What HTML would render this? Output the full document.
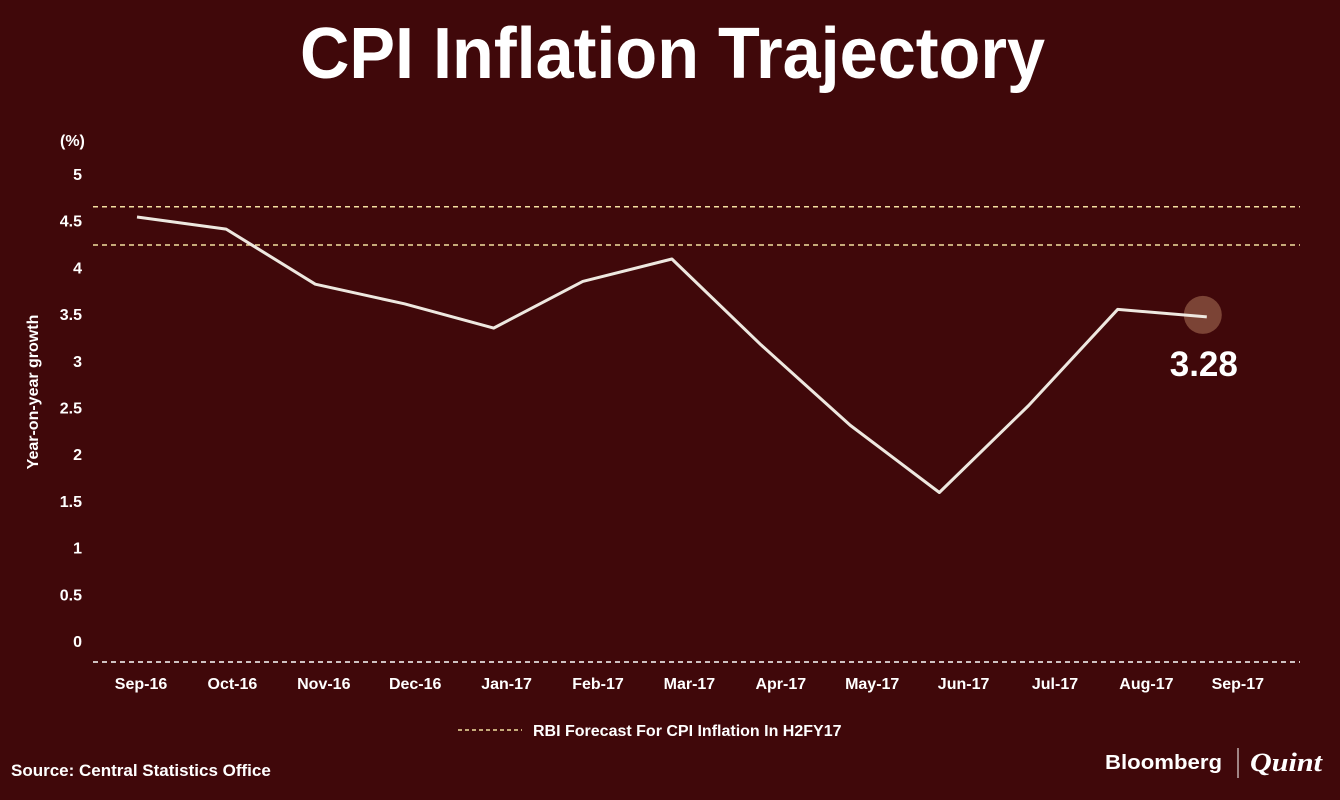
<!DOCTYPE html>
<html><head><meta charset="utf-8"><style>
html,body{margin:0;padding:0;background:#40080a;}
svg{display:block;font-family:"Liberation Sans",sans-serif;}
</style></head><body>
<svg width="1340" height="800" viewBox="0 0 1340 800">
<rect width="1340" height="800" fill="#40080a"/>
<text x="300" y="78" textLength="745" lengthAdjust="spacingAndGlyphs" fill="#fff" font-size="72" font-weight="bold">CPI Inflation Trajectory</text>
<text x="60" y="146" fill="#fff" font-size="16" font-weight="bold">(%)</text>
<text transform="translate(38,392) rotate(-90)" text-anchor="middle" fill="#fff" font-size="16" font-weight="bold">Year-on-year growth</text>
<g id="yticks"></g><g id="xticks"></g><g id="refs"></g><g id="series"></g>
<line x1="93" y1="662" x2="1300" y2="662" stroke="#fff" stroke-width="1.5" stroke-dasharray="5,4"/>
<line x1="458" y1="730" x2="522" y2="730" stroke="#f3dfa0" stroke-width="1.5" stroke-dasharray="4,3"/>
<text x="533" y="736" fill="#fff" font-size="16" font-weight="bold">RBI Forecast For CPI Inflation In H2FY17</text>
<text x="11" y="776" fill="#fff" font-size="17" font-weight="bold">Source: Central Statistics Office</text>
<text x="1105" y="769" textLength="117" lengthAdjust="spacingAndGlyphs" fill="#fff" font-size="20" font-weight="bold">Bloomberg</text>
<line x1="1238" y1="748" x2="1238" y2="778" stroke="#fff" stroke-width="1"/>
<text x="1250" y="771" textLength="72" lengthAdjust="spacingAndGlyphs" fill="#fff" font-size="26" font-style="italic" font-weight="bold" font-family="Liberation Serif,serif">Quint</text>
</svg>
<script>
const categories=["Sep-16","Oct-16","Nov-16","Dec-16","Jan-17","Feb-17","Mar-17","Apr-17","May-17","Jun-17","Jul-17","Aug-17","Sep-17"];
const values=[4.54,4.41,3.82,3.61,3.35,3.85,4.09,3.17,2.31,1.59,2.52,3.55,3.47];
const yTicks=[0,0.5,1,1.5,2,2.5,3,3.5,4,4.5,5];
const yTickLabels=["0","0.5","1","1.5","2","2.5","3","3.5","4","4.5","5"];
const forecastBand=[4.24,4.65];
const lastLabel="3.28";
const NS="http://www.w3.org/2000/svg";
function y(v){return 641-v*93.4;}
function xp(i){return 137+i*89.15;}
function xl(i){return 141+i*91.4;}
function mk(tag,attrs,parent,text){const e=document.createElementNS(NS,tag);for(const k in attrs)e.setAttribute(k,attrs[k]);if(text!==undefined)e.textContent=text;parent.appendChild(e);return e;}
const yg=document.getElementById('yticks');
yTicks.forEach((t,i)=>{const e=mk('text',{x:82,y:y(t)+6,'text-anchor':'end',fill:'#fff','font-size':16,'font-weight':'bold'},yg,yTickLabels[i]);

});
const xg=document.getElementById('xticks');
categories.forEach((c,i)=>{const e=mk('text',{x:xl(i),y:689,'text-anchor':'middle',fill:'#fff','font-size':16,'font-weight':'bold'},xg,c);

});
const rg=document.getElementById('refs');
forecastBand.forEach(v=>{const e=mk('line',{x1:93,x2:1300,y1:y(v),y2:y(v),stroke:'#f3dfa0','stroke-width':1.5,'stroke-dasharray':'5,4'},rg);

});
const sg=document.getElementById('series');
const n=values.length-1;
const c=mk('circle',{cx:xp(n)-4,cy:y(values[n])-2,r:19,fill:'#7b4335'},sg);


const p=mk('polyline',{points:values.map((v,i)=>xp(i)+','+y(v)).join(' '),fill:'none',stroke:'#eee8e0','stroke-width':3,'stroke-linejoin':'round'},sg);


const l=mk('text',{x:xp(n)-3,y:y(values[n])+59,'text-anchor':'middle',fill:'#fff','font-size':35,'font-weight':'bold'},sg,lastLabel);


</script>
</body></html>
